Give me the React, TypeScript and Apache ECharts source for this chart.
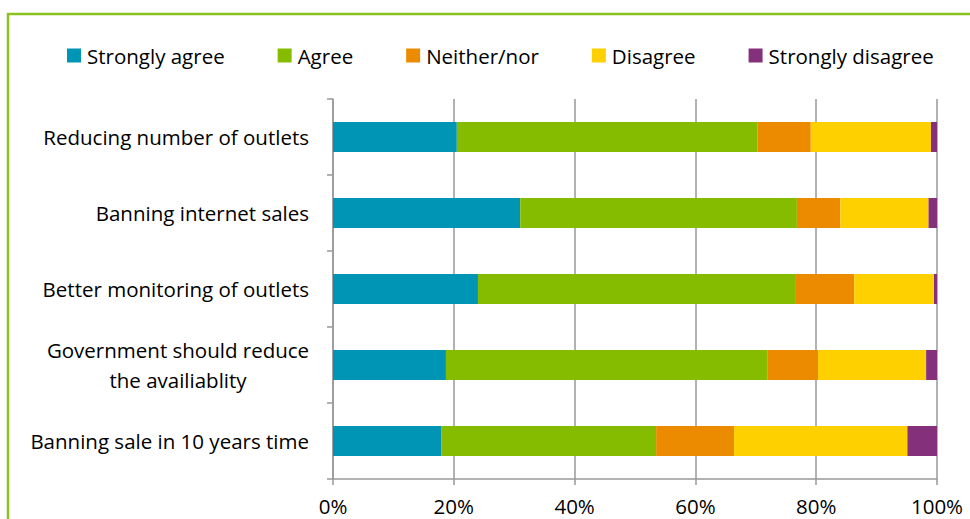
import React, { useEffect, useRef } from "react";
import * as echarts from "echarts";

const categories = [
  "Reducing number of outlets",
  "Banning internet sales",
  "Better monitoring of outlets",
  "Government should reduce\nthe availiablity",
  "Banning sale in 10 years time",
];
const seriesNames = ["Strongly agree", "Agree", "Neither/nor", "Disagree", "Strongly disagree"];
const stronglyAgree = [20.5, 31.0, 24.0, 18.7, 17.9];
const agree = [49.8, 45.8, 52.5, 53.2, 35.6];
const neither = [8.8, 7.2, 9.8, 8.4, 12.9];
const disagree = [19.9, 14.6, 13.2, 17.9, 28.7];
const stronglyDisagree = [1.0, 1.4, 0.5, 1.8, 4.9];
const xTicks = [0, 20, 40, 60, 80, 100];
const colors = ["#0094b5", "#86bc00", "#ec8b00", "#ffd000", "#85307a"];

const FONT = "'Open Sans', sans-serif";
const FS = 20.5;

export default function App() {
  const ref = useRef<HTMLDivElement>(null);
  useEffect(() => {
    if (!ref.current) return;
    const chart = echarts.init(ref.current, undefined, { renderer: "svg" });
    const values = [stronglyAgree, agree, neither, disagree, stronglyDisagree];
    chart.setOption({
      animation: false,
      textStyle: { fontFamily: FONT },
      graphic: [
        {
          type: "rect",
          shape: { x: 8, y: 14, width: 1000, height: 600 },
          style: { fill: "none", stroke: "#8cc220", lineWidth: 2.5 },
          silent: true,
        },
      ],
      legend: {
        left: 67,
        top: 45,
        padding: 0,
        itemWidth: 14,
        itemHeight: 14,
        itemGap: 53,
        icon: "rect",
        textStyle: { fontFamily: FONT, fontSize: FS, color: "#000", padding: [0, 0, 0, 1] },
        data: seriesNames,
      },
      grid: { left: 333, right: 33, top: 99, bottom: 40, containLabel: false },
      xAxis: {
        type: "value",
        min: xTicks[0],
        max: xTicks[xTicks.length - 1],
        interval: 20,
        axisLine: { show: true, lineStyle: { color: "#999", width: 1.5 } },
        axisTick: { show: true, length: 6, lineStyle: { color: "#999", width: 1.5 } },
        splitLine: { show: true, lineStyle: { color: "#999", width: 1.5 } },
        axisLabel: {
          formatter: "{value}%",
          fontFamily: FONT,
          fontSize: FS,
          color: "#000",
          margin: 17,
          lineHeight: 20,
        },
      },
      yAxis: {
        type: "category",
        inverse: true,
        data: categories,
        axisLine: { show: true, lineStyle: { color: "#999", width: 1.5 } },
        axisTick: { show: true, length: 6, lineStyle: { color: "#999", width: 1.5 } },
        axisLabel: {
          fontFamily: FONT,
          fontSize: FS,
          color: "#000",
          margin: 24,
          lineHeight: 30,
          formatter: (v: string) => {
            if (v.indexOf("\n") >= 0) {
              const parts = v.split("\n");
              return parts.map((p) => "{c|" + p + "}").join("\n");
            }
            return v;
          },
          rich: {
            c: {
              fontFamily: FONT,
              fontSize: FS,
              color: "#000",
              width: 262,
              align: "center",
              lineHeight: 30,
            },
          },
        },
      },
      series: seriesNames.map((name, i) => ({
        name,
        type: "bar",
        stack: "total",
        barWidth: 30,
        itemStyle: { color: colors[i] },
        data: values[i],
      })),
    });
    return () => chart.dispose();
  }, []);
  return (
    <div
      ref={ref}
      style={{ position: "fixed", left: 0, top: 0, width: 970, height: 519, background: "#fff" }}
    />
  );
}
